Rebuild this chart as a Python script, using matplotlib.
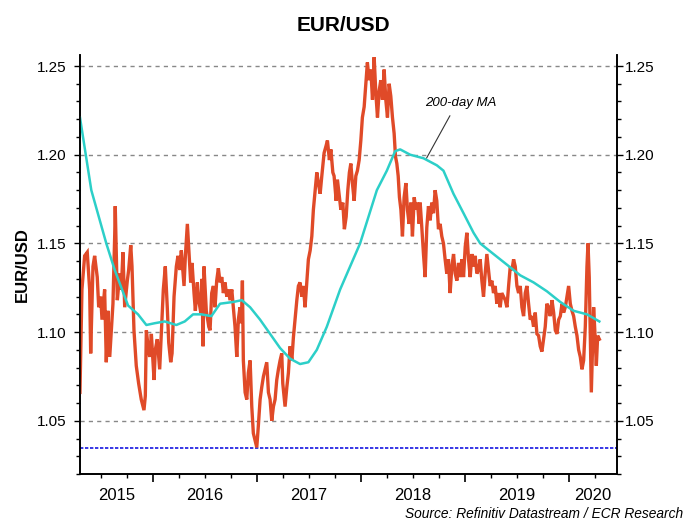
import numpy as np
import matplotlib
matplotlib.use("Agg")
import matplotlib.pyplot as plt

plt.rcParams['font.family'] = ['Liberation Sans', 'DejaVu Sans']

# EUR/USD spot (decimal years)
spot_dates = [
    2015.300, 2015.319, 2015.345, 2015.370, 2015.393, 2015.403, 2015.425, 2015.441,
    2015.466, 2015.480, 2015.499, 2015.512, 2015.537, 2015.553, 2015.569, 2015.586,
    2015.601, 2015.617, 2015.634, 2015.639, 2015.659, 2015.682, 2015.697, 2015.713,
    2015.730, 2015.755, 2015.768, 2015.788, 2015.800, 2015.819, 2015.841, 2015.864,
    2015.889, 2015.915, 2015.928, 2015.938, 2015.954, 2015.970, 2015.986, 2016.012,
    2016.024, 2016.043, 2016.066, 2016.082, 2016.101, 2016.120, 2016.139, 2016.153,
    2016.172, 2016.185, 2016.204, 2016.226, 2016.242, 2016.259, 2016.274, 2016.300,
    2016.313, 2016.332, 2016.345, 2016.364, 2016.377, 2016.396, 2016.409, 2016.428,
    2016.441, 2016.461, 2016.473, 2016.483, 2016.492, 2016.514, 2016.538, 2016.550,
    2016.566, 2016.582, 2016.598, 2016.614, 2016.630, 2016.646, 2016.663, 2016.678,
    2016.694, 2016.711, 2016.726, 2016.742, 2016.759, 2016.774, 2016.790, 2016.807,
    2016.822, 2016.838, 2016.851, 2016.861, 2016.870, 2016.887, 2016.903, 2016.918,
    2016.935, 2016.951, 2016.966, 2016.983, 2016.999, 2017.014, 2017.031, 2017.047,
    2017.063, 2017.079, 2017.095, 2017.111, 2017.127, 2017.143, 2017.159, 2017.175,
    2017.191, 2017.207, 2017.223, 2017.239, 2017.249, 2017.271, 2017.288, 2017.303,
    2017.319, 2017.336, 2017.351, 2017.367, 2017.384, 2017.399, 2017.415, 2017.432,
    2017.447, 2017.463, 2017.480, 2017.495, 2017.512, 2017.528, 2017.543, 2017.560,
    2017.576, 2017.591, 2017.608, 2017.624, 2017.646, 2017.665, 2017.678, 2017.697,
    2017.711, 2017.730, 2017.742, 2017.762, 2017.774, 2017.793, 2017.807, 2017.826,
    2017.841, 2017.858, 2017.874, 2017.889, 2017.903, 2017.918, 2017.935, 2017.951,
    2017.966, 2017.983, 2017.999, 2018.014, 2018.031, 2018.047, 2018.062, 2018.079,
    2018.095, 2018.111, 2018.127, 2018.143, 2018.159, 2018.175, 2018.191, 2018.207,
    2018.223, 2018.239, 2018.255, 2018.271, 2018.287, 2018.303, 2018.319, 2018.332,
    2018.345, 2018.358, 2018.370, 2018.384, 2018.399, 2018.415, 2018.432, 2018.447,
    2018.463, 2018.480, 2018.495, 2018.512, 2018.528, 2018.543, 2018.560,
    2018.569, 2018.585, 2018.601, 2018.617, 2018.633, 2018.649, 2018.665, 2018.681,
    2018.697, 2018.713, 2018.729, 2018.745, 2018.761, 2018.777, 2018.793, 2018.809,
    2018.825, 2018.841, 2018.857, 2018.874, 2018.890, 2018.906, 2018.922, 2018.938,
    2018.954, 2018.970, 2018.986, 2019.002, 2019.018, 2019.034, 2019.050, 2019.066,
    2019.082, 2019.098, 2019.114, 2019.130, 2019.146, 2019.162, 2019.178, 2019.194,
    2019.210, 2019.226, 2019.242, 2019.258, 2019.274, 2019.290, 2019.306, 2019.322,
    2019.338, 2019.354, 2019.371, 2019.387, 2019.403, 2019.419, 2019.435, 2019.451,
    2019.467, 2019.483, 2019.499, 2019.515, 2019.531, 2019.547, 2019.563, 2019.579,
    2019.595, 2019.611, 2019.627, 2019.643, 2019.659, 2019.675, 2019.691, 2019.707,
    2019.723, 2019.739, 2019.755, 2019.771, 2019.787, 2019.803, 2019.819, 2019.836,
    2019.852, 2019.868, 2019.884, 2019.900, 2019.916, 2019.932, 2019.948, 2019.964,
    2019.980, 2019.996, 2020.012, 2020.028, 2020.044, 2020.060, 2020.076, 2020.092,
    2020.108, 2020.124, 2020.140, 2020.156, 2020.172, 2020.182, 2020.194, 2020.204,
    2020.214, 2020.226, 2020.236, 2020.249, 2020.262, 2020.275, 2020.291,
]
spot_values = [
    1.066, 1.124, 1.143, 1.145, 1.124, 1.088, 1.137, 1.143,
    1.131, 1.114, 1.120, 1.107, 1.124, 1.083, 1.112, 1.086,
    1.101, 1.116, 1.155, 1.171, 1.118, 1.133, 1.124, 1.145,
    1.114, 1.129, 1.135, 1.149, 1.137, 1.101, 1.081, 1.071,
    1.062, 1.056, 1.064, 1.101, 1.092, 1.086, 1.099, 1.073,
    1.090, 1.096, 1.079, 1.099, 1.124, 1.137, 1.114, 1.094,
    1.083, 1.088, 1.120, 1.137, 1.143, 1.135, 1.146, 1.126,
    1.143, 1.161, 1.148, 1.128, 1.139, 1.122, 1.112, 1.128,
    1.118, 1.111, 1.130, 1.092, 1.137, 1.112, 1.103, 1.101,
    1.122, 1.126, 1.114, 1.129, 1.136, 1.128, 1.131, 1.122,
    1.128, 1.120, 1.124, 1.118, 1.124, 1.114, 1.103, 1.086,
    1.107, 1.114, 1.105, 1.129, 1.084, 1.066, 1.062, 1.077,
    1.084, 1.058, 1.043, 1.039, 1.035, 1.047, 1.062, 1.069,
    1.075, 1.079, 1.083, 1.066, 1.062, 1.050, 1.058, 1.062,
    1.073, 1.079, 1.084, 1.088, 1.071, 1.058, 1.069, 1.077,
    1.092, 1.084, 1.097, 1.107, 1.118, 1.126, 1.128, 1.120,
    1.126, 1.114, 1.128, 1.141, 1.146, 1.154, 1.169, 1.180,
    1.190, 1.184, 1.178, 1.188, 1.201, 1.205, 1.208, 1.197,
    1.203, 1.190, 1.188, 1.174, 1.186, 1.176, 1.169, 1.173,
    1.158, 1.165, 1.180, 1.190, 1.195, 1.184, 1.174, 1.188,
    1.191, 1.197, 1.208, 1.221, 1.227, 1.240, 1.252, 1.242,
    1.248, 1.231, 1.255, 1.235, 1.221, 1.236, 1.242, 1.231,
    1.248, 1.231, 1.221, 1.240, 1.233, 1.221, 1.212, 1.199,
    1.195, 1.188, 1.176, 1.169, 1.154, 1.176, 1.184, 1.169,
    1.161, 1.173, 1.154, 1.176, 1.169, 1.173, 1.161,
    1.173, 1.159, 1.144, 1.131, 1.159, 1.171, 1.163, 1.173,
    1.167, 1.180, 1.174, 1.158, 1.161, 1.154, 1.150, 1.141,
    1.133, 1.141, 1.122, 1.137, 1.144, 1.133, 1.129, 1.139,
    1.131, 1.141, 1.131, 1.148, 1.156, 1.141, 1.131, 1.144,
    1.137, 1.143, 1.133, 1.135, 1.141, 1.129, 1.120, 1.133,
    1.144, 1.135, 1.126, 1.129, 1.122, 1.126, 1.116, 1.122,
    1.114, 1.122, 1.120, 1.118, 1.114, 1.126, 1.137, 1.135,
    1.141, 1.137, 1.126, 1.122, 1.126, 1.114, 1.109, 1.122,
    1.126, 1.116, 1.107, 1.109, 1.103, 1.111, 1.099, 1.098,
    1.092, 1.089, 1.096, 1.103, 1.116, 1.114, 1.109, 1.118,
    1.111, 1.101, 1.099, 1.107, 1.109, 1.116, 1.111, 1.114,
    1.120, 1.126, 1.116, 1.112, 1.109, 1.103, 1.098, 1.090,
    1.086, 1.079, 1.084, 1.103, 1.137, 1.150, 1.131, 1.099,
    1.066, 1.092, 1.114, 1.099, 1.081, 1.098, 1.096,
]

# 200-day moving average
ma_dates = [
    2015.300, 2015.409, 2015.553, 2015.634, 2015.762, 2015.858, 2015.938, 2016.018,
    2016.114, 2016.226, 2016.307, 2016.387, 2016.467, 2016.563, 2016.646, 2016.774,
    2016.855, 2016.935, 2017.031, 2017.127, 2017.223, 2017.319, 2017.415, 2017.495,
    2017.576, 2017.672, 2017.800, 2017.992, 2018.153, 2018.249, 2018.329, 2018.377,
    2018.473, 2018.601, 2018.730, 2018.793, 2018.889, 2018.986, 2019.082, 2019.146,
    2019.274, 2019.403, 2019.531, 2019.659, 2019.787, 2019.915, 2020.044, 2020.172,
    2020.291,
]
ma_values = [
    1.221, 1.180, 1.150, 1.135, 1.115, 1.110, 1.104, 1.105,
    1.106, 1.104, 1.106, 1.110, 1.110, 1.109, 1.116, 1.117,
    1.118, 1.114, 1.107, 1.099, 1.091, 1.085, 1.082, 1.083,
    1.090, 1.103, 1.124, 1.150, 1.180, 1.191, 1.202, 1.203,
    1.200, 1.198, 1.194, 1.191, 1.178, 1.167, 1.156, 1.150,
    1.144, 1.138, 1.132, 1.128, 1.123, 1.117, 1.112, 1.110,
    1.106,
]

year_ticks = [2016, 2017, 2018, 2019, 2020]
quarter_ticks = [2015.5, 2015.75, 2016.25, 2016.5, 2016.75, 2017.25, 2017.5, 2017.75,
                 2018.25, 2018.5, 2018.75, 2019.25, 2019.5, 2019.75, 2020.25]
year_labels = ['2015', '2016', '2017', '2018', '2019', '2020']
year_label_pos = [2015.65, 2016.5, 2017.5, 2018.5, 2019.5, 2020.23]
y_major = [1.05, 1.10, 1.15, 1.20, 1.25]
y_labels = ['1.05', '1.10', '1.15', '1.20', '1.25']
low_2017 = 1.0345

fig = plt.figure(figsize=(6.87, 5.23), dpi=100)
ax = fig.add_axes([0.1164, 0.0937, 0.7816, 0.8011])

ax.plot(spot_dates, spot_values, color='#E04A28', lw=2.4, solid_joinstyle='miter', zorder=3)
ax.plot(ma_dates, ma_values, color='#2CCFC8', lw=1.8, zorder=4)
ax.axhline(low_2017, color='#1515E0', lw=1.2, ls=(0, (2, 1)), zorder=2)

ax.set_xlim(2015.30, 2020.46)
ax.set_ylim(1.02, 1.2562)

# horizontal grid + left axis
ax.set_yticks(y_major)
ax.set_yticklabels(y_labels)
ax.set_yticks(np.arange(1.02, 1.255, 0.01), minor=True)
ax.yaxis.grid(True, which='major', color='#888888', ls=(0, (3, 3)), lw=1)
ax.tick_params(axis='y', which='both', direction='out', labelsize=11, width=1)
ax.tick_params(axis='y', which='major', length=4, pad=6)
ax.tick_params(axis='y', which='minor', length=3)

# right axis with the same scale
ax2 = ax.twinx()
ax2.set_ylim(ax.get_ylim())
ax2.set_yticks(y_major)
ax2.set_yticklabels(y_labels)
ax2.set_yticks(np.arange(1.02, 1.255, 0.01), minor=True)
ax2.tick_params(axis='y', which='both', direction='out', labelsize=11, width=1)
ax2.tick_params(axis='y', which='major', length=4, pad=2)
ax2.tick_params(axis='y', which='minor', length=3)
for a in (ax, ax2):
    a.spines['top'].set_visible(False)
    for side in ['left', 'right', 'bottom']:
        a.spines[side].set_linewidth(1.2)

ax.set_xticks(year_ticks)
ax.set_xticklabels([])
ax.set_xticks(quarter_ticks, minor=True)
ax.tick_params(axis='x', which='major', direction='out', length=6, width=1.2)
ax.tick_params(axis='x', which='minor', direction='out', length=3, width=1)
for lab, pos in zip(year_labels, year_label_pos):
    ax.text(pos, -0.052, lab, transform=ax.get_xaxis_transform(),
            ha='center', va='center', fontsize=12)

ax.annotate('200-day MA', xy=(2018.63, 1.198), xytext=(2018.615, 1.229),
            fontsize=9.5, style='italic', ha='left', va='center',
            arrowprops=dict(arrowstyle='-', color='#333333', lw=0.8,
                            relpos=(0.4, 0.0), shrinkA=3, shrinkB=0))

fig.text(0.5, 0.952, 'EUR/USD', ha='center', va='center', fontsize=15, fontweight='bold')
fig.text(0.032, 0.494, 'EUR/USD', ha='center', va='center', rotation=90,
         fontsize=12, fontweight='bold')
fig.text(0.994, 0.003, 'Source: Refinitiv Datastream / ECR Research', ha='right',
         va='bottom', fontsize=9.9, style='italic')

fig.savefig('out.png', dpi=100)
